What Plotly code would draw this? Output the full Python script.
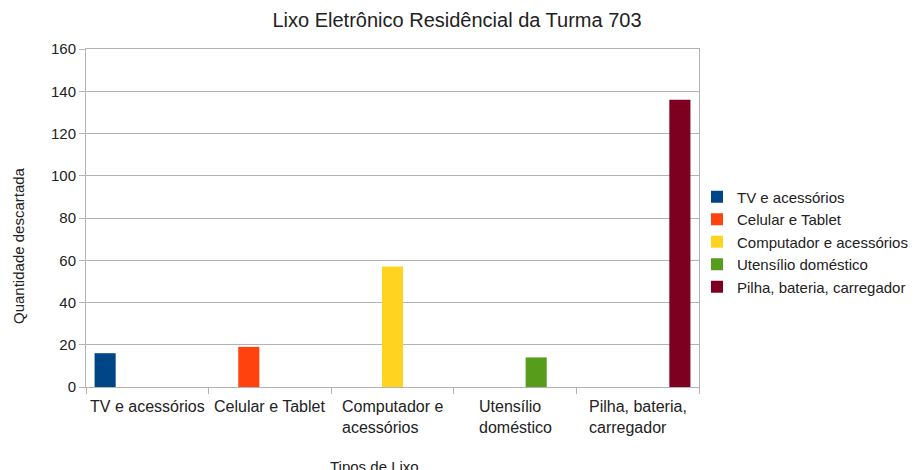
import plotly.graph_objects as go

categories = ["TV e acessórios", "Celular e Tablet", "Computador e acessórios",
              "Utensílio doméstico", "Pilha, bateria, carregador"]
tick_labels = ["TV e acessórios", "Celular e Tablet", "Computador e<br>acessórios",
               "Utensílio<br>doméstico", "Pilha, bateria,<br>carregador"]
series_names = categories
values = [16, 19, 57, 14, 136]
colors = ["#004586", "#ff420e", "#ffd320", "#579d1c", "#7e0021"]

FONT = "Liberation Sans, Arial, sans-serif"
W, H = 914, 470
L, R, T, B = 86, 215, 49, 83

fig = go.Figure()
for i, name in enumerate(series_names):
    y = [values[i] if j == i else None for j in range(len(categories))]
    fig.add_trace(go.Bar(x=categories, y=y, name=name, marker_color=colors[i],
                         marker_line_width=0, legendgroup=str(i)))

pw = W - L - R
ph = H - T - B


def py(pix):
    return (H - B - pix) / ph


def px(pix):
    return (pix - L) / pw


fig.update_layout(
    width=W, height=H,
    margin=dict(l=L, r=R, t=T, b=B, autoexpand=False),
    paper_bgcolor="white", plot_bgcolor="white",
    font=dict(family=FONT, size=15, color="#222"),
    barmode="group", bargap=0.14, bargroupgap=0,
    title=dict(text="Lixo Eletrônico Residêncial da Turma 703", x=457 / W, xref="container",
               xanchor="center", y=1 - 20 / H, yref="container", yanchor="middle",
               font=dict(size=20, color="#222", family=FONT)),
    legend=dict(x=px(697), xanchor="left", y=py(242), yanchor="middle",
                font=dict(size=15, color="#222"), tracegroupgap=0, bgcolor="rgba(0,0,0,0)"),
    showlegend=True,
)
fig.update_xaxes(
    type="category", showline=True, linecolor="#b3b3b3", linewidth=1, mirror=True,
    ticks="outside", tickson="boundaries", ticklen=6, tickcolor="#b3b3b3",
    showgrid=False, showticklabels=False,
)
fig.update_yaxes(
    range=[0, 160], dtick=20, showline=True, linecolor="#b3b3b3", linewidth=1, mirror=True,
    ticks="outside", ticklen=6, tickcolor="#b3b3b3",
    showgrid=True, gridcolor="#b3b3b3", gridwidth=1, zeroline=False,
    tickfont=dict(size=15, color="#222"),
)
for cat, lab in zip(categories, tick_labels):
    fig.add_annotation(text=lab, xref="x", yref="paper", x=cat, y=py(396),
                       xanchor="center", yanchor="top", align="left", showarrow=False,
                       font=dict(size=16, color="#222"))
fig.add_annotation(text="Tipos de Lixo", xref="paper", yref="paper",
                   x=px(374), y=py(466), xanchor="center", yanchor="middle",
                   showarrow=False, font=dict(size=15, color="#222"))
fig.add_annotation(text="Quantidade descartada", xref="paper", yref="paper",
                   x=px(18), y=py(246), xanchor="center", yanchor="middle",
                   textangle=-90, showarrow=False, font=dict(size=15, color="#222"))

fig.write_html("out.html", config={"displayModeBar": False},
               post_script="document.body.style.margin='0';")
